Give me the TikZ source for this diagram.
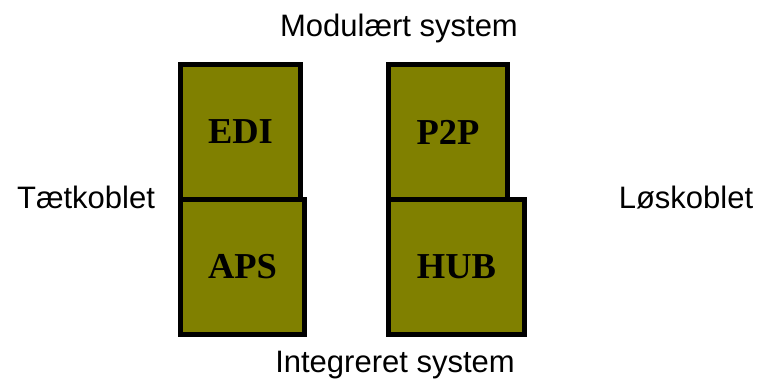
\documentclass[tikz,border=0pt]{standalone}
\usepackage{fontspec}
\setmainfont{Liberation Serif}
\newfontfamily\arialfont{Liberation Sans}
\definecolor{olivefill}{RGB}{128,128,0}
\tikzset{
  block/.style={draw=black, line width=5pt, fill=olivefill, rectangle,
    inner sep=0pt, font=\fontsize{36.5}{40}\selectfont\bfseries},
  caption/.style={anchor=base, inner sep=0pt, font=\arialfont\fontsize{31}{34}\selectfont}
}
\begin{document}
\begin{tikzpicture}[x=1pt, y=-1pt]
  \useasboundingbox (0,0) rectangle (759,379);
  % upper row
  \node[block, minimum width=120pt, minimum height=135pt] (edi) at (240.5,132) {EDI};
  \node[block, minimum width=119pt, minimum height=135pt] (p2p) at (448,132) {P2P};
  % lower row, drawn over the upper boxes' bottom edges
  \node[block, minimum width=124pt, minimum height=135pt] (aps) at (242.5,267) {APS};
  \node[block, minimum width=136pt, minimum height=135pt] (hub) at (456.5,267) {HUB};
  % axis captions
  \node[caption] (top) at (399,37) {Modulært system};
  \node[caption] (bottom) at (395,372) {Integreret system};
  \node[caption] (left) at (86,208) {Tætkoblet};
  \node[caption] (right) at (686,208) {Løskoblet};
\end{tikzpicture}
\end{document}
